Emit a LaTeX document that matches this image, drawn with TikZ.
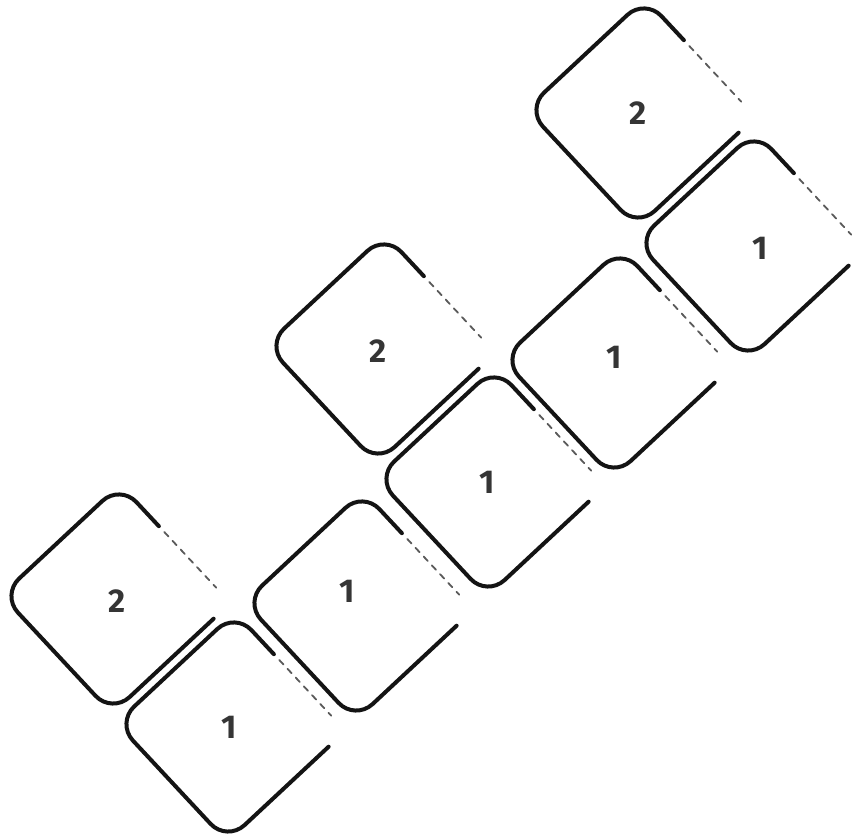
\documentclass[tikz,border=0pt]{standalone}
\usepackage{fontspec}
\setmainfont{Fira Sans}
\definecolor{numgray}{HTML}{353535}
\definecolor{faintgray}{HTML}{5A5A5A}
\tikzset{
  num/.style={font=\fontsize{33}{33}\selectfont\bfseries, text=numgray, inner sep=0pt},
  tileedge/.style={line width=4pt, line join=round, line cap=round, rounded corners=24pt, draw=black!92},
  tilefaint/.style={line width=1.8pt, draw=faintgray, dash pattern=on 6pt off 6pt, line cap=round}
}
\newcommand\mytile[6]{%
  \coordinate (#1c) at (#2,837-#3);
  \node[num] (#1) at (#4,837-#5) {#6};
  \begin{scope}[shift={(#1c)}, rotate=43]
    \draw[tileedge] (58,-81) -- (-81,-81) -- (-81,81) -- (81,81) -- (81,24);
    \draw[tilefaint] (81,16) -- (81,-60);
  \end{scope}}
\begin{document}
\begin{tikzpicture}[x=1pt,y=1pt]
\useasboundingbox (0,0) rectangle (854,837);
\mytile{a}{641}{113}{638}{113}{2}
\mytile{b}{751}{246}{760}{248}{1}
\mytile{c}{381}{349}{378}{351}{2}
\mytile{d}{617}{363}{614}{357}{1}
\mytile{e}{491}{482}{487}{482}{1}
\mytile{f}{116}{599}{117}{601}{2}
\mytile{g}{359}{606}{347}{591}{1}
\mytile{h}{231}{727}{229}{727}{1}
\end{tikzpicture}
\end{document}
